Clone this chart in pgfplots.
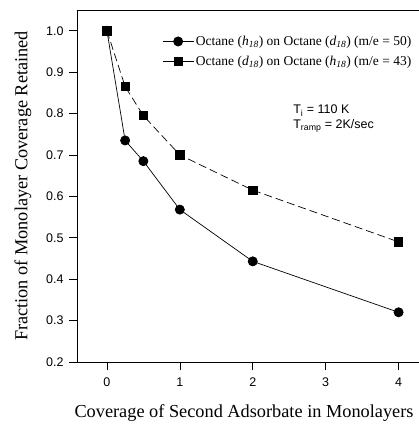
\documentclass[border=0pt]{standalone}
\usepackage{fontspec}
\setmainfont{Liberation Serif}
\setsansfont{Liberation Sans}
\usepackage{pgfplots}
\pgfplotsset{compat=1.18}
\begin{document}
\begin{tikzpicture}
\begin{axis}[
  at={(0pt,0pt)}, anchor=south west,
  scale only axis, width=342pt, height=352pt,
  xmin=-0.41, xmax=4.28, ymin=0.2, ymax=1.05,
  axis line style={draw=none},
  xtick={0,1,2,3,4}, ytick={0.2,0.3,0.4,0.5,0.6,0.7,0.8,0.9,1.0},
  yticklabel style={xshift=-2pt, /pgf/number format/.cd, fixed, fixed zerofill, precision=1},
  xtick pos=bottom, ytick pos=left, tick align=outside,
  major tick length=8pt,
  tick style={black, line width=0.6pt},
  ticklabel style={font=\sffamily\fontsize{12.5}{14}\selectfont},
  /pgf/number format/assume math mode=true,
  xticklabel style={yshift=-4pt},
  xlabel={Coverage of Second Adsorbate in Monolayers},
  ylabel={Fraction of Monolayer Coverage Retained},
  label style={font=\fontsize{18.3}{21}\selectfont},
  xlabel style={yshift=-11pt, xshift=-4pt},
  ylabel style={yshift=8pt},
  legend style={draw=none, fill=none, at={(0.24,0.938)}, anchor=north west,
    font=\fontsize{13.5}{15}\selectfont, row sep=5pt},
  legend cell align=left,
  legend image code/.code={\draw[#1, solid] (0pt,0pt) -- (31pt,0pt);
    \draw[#1, solid] plot coordinates {(15.5pt,0pt)};},
  clip=false,
]
\addplot[black, line width=0.7pt, mark=*, mark size=4.6pt] coordinates {
  (0,1.0) (0.25,0.735) (0.5,0.685) (1,0.568) (2,0.443) (4,0.32)};
\addlegendentry{Octane (\textit{h}\textsubscript{\textit{18}}) on Octane (\textit{d}\textsubscript{\textit{18}}) (m/e = 50)}
\addplot[black, line width=0.7pt, dash pattern=on 8pt off 4pt, mark=square*, mark size=4.2pt, mark options={solid}] coordinates {
  (0,1.0) (0.25,0.865) (0.5,0.795) (1,0.70) (2,0.615) (4,0.49)};
\addlegendentry{Octane (\textit{d}\textsubscript{\textit{18}}) on Octane (\textit{h}\textsubscript{\textit{18}}) (m/e = 43)}
\draw[black, line width=0.8pt] (rel axis cs:1.05,1) -- (rel axis cs:0,1) -- (rel axis cs:0,0) -- (rel axis cs:1.05,0);
\node[anchor=base west, font=\sffamily\fontsize{12.5}{14}\selectfont, inner sep=0pt] at (rel axis cs:0.632,0.705) {T\textsubscript{i} = 110 K};
\node[anchor=base west, font=\sffamily\fontsize{12.5}{14}\selectfont, inner sep=0pt] at (rel axis cs:0.632,0.663) {T\textsubscript{ramp} = 2K/sec};
\end{axis}
\pgfresetboundingbox
\useasboundingbox (-77pt,-71pt) rectangle (342pt,362pt);
\end{tikzpicture}
\end{document}
